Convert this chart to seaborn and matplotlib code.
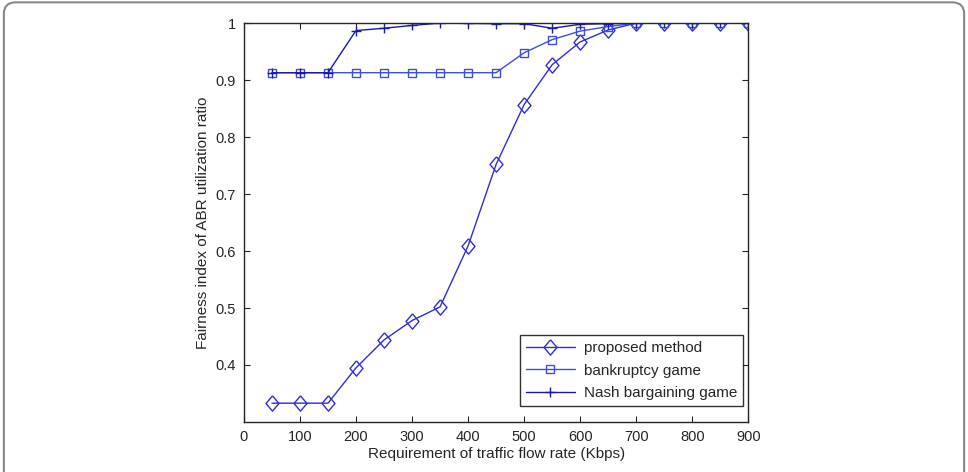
import matplotlib.pyplot as plt
import numpy as np
import pandas as pd
import seaborn as sns
from matplotlib.patches import FancyBboxPatch

rate = [50, 100, 150, 200, 250, 300, 350, 400, 450, 500, 550, 600, 650, 700, 750, 800, 850, 900]
proposed = [0.333, 0.333, 0.333, 0.395, 0.444, 0.478, 0.502, 0.609, 0.752, 0.857, 0.927, 0.967, 0.988,
            1.0, 1.0, 1.0, 1.0, 1.0]
bankruptcy = [0.913, 0.913, 0.913, 0.913, 0.913, 0.913, 0.913, 0.913, 0.913, 0.948, 0.971, 0.986, 0.994,
              1.0, 1.0, 1.0, 1.0, 1.0]
nash = [0.913, 0.913, 0.913, 0.987, 0.991, 0.996, 1.0, 0.9995, 0.999, 0.999, 0.991, 0.998, 0.999,
        1.0, 1.0, 1.0, 1.0, 1.0]

series_names = ['proposed method', 'bankruptcy game', 'Nash bargaining game']
x_ticks = [0, 100, 200, 300, 400, 500, 600, 700, 800, 900]
y_ticks = [0.4, 0.5, 0.6, 0.7, 0.8, 0.9, 1.0]
y_ticklabels = ['0.4', '0.5', '0.6', '0.7', '0.8', '0.9', '1']

df = pd.DataFrame({
    'rate': rate * 3,
    'value': proposed + bankruptcy + nash,
    'method': [series_names[0]] * len(rate) + [series_names[1]] * len(rate) + [series_names[2]] * len(rate),
})

sns.set_style('ticks')
plt.rcParams['font.family'] = ['Liberation Sans', 'DejaVu Sans']
plt.rcParams['xtick.direction'] = 'in'
plt.rcParams['ytick.direction'] = 'in'

fig = plt.figure(figsize=(9.68, 4.72), dpi=100)
ax = fig.add_axes([0.252, 0.106, 0.521, 0.845])

# frame round the whole picture
fig.patches.append(FancyBboxPatch((0.004, -0.05), 0.992, 1.045, boxstyle='round,pad=0,rounding_size=0.012',
                                  transform=fig.transFigure, facecolor='none', edgecolor='#888888',
                                  linewidth=1.5, mutation_aspect=2.05))

# MATLAB style diamond, a bit taller than wide
diamond = [(0, 1), (0.85, 0), (0, -1), (-0.85, 0), (0, 1)]

colors = {'proposed method': '#2e2ed6', 'bankruptcy game': '#3a4ee0', 'Nash bargaining game': '#1a1aa8'}
markers = {'proposed method': diamond, 'bankruptcy game': 's', 'Nash bargaining game': '+'}
sizes = {'proposed method': 11.0, 'bankruptcy game': 5.8, 'Nash bargaining game': 7.5}

for name in series_names:
    sub = df[df['method'] == name]
    sns.lineplot(data=sub, x='rate', y='value', ax=ax, color=colors[name], marker=markers[name],
                 markersize=sizes[name], markerfacecolor='none', markeredgecolor=colors[name],
                 markeredgewidth=1.0, linewidth=1.0, label=name)

ax.set_xlim(0, 900)
ax.set_ylim(0.3, 1.0)
ax.set_xticks(x_ticks)
ax.set_yticks(y_ticks)
ax.set_yticklabels(y_ticklabels)
ax.tick_params(labelsize=10.5, top=True, right=True, length=4, width=0.8, pad=6)
for s in ax.spines.values():
    s.set_visible(True)
    s.set_linewidth(1.0)
ax.set_xlabel('Requirement of traffic flow rate (Kbps)', fontsize=11, labelpad=2)
ax.set_ylabel('Fairness index of ABR utilization ratio', fontsize=11, labelpad=4)

leg = ax.legend(loc='lower right', bbox_to_anchor=(0.990, 0.040), borderaxespad=0, fontsize=11,
                frameon=True, fancybox=False, handlelength=3.2, labelspacing=0.55, borderpad=0.4,
                handletextpad=0.6)
leg.get_frame().set_edgecolor('black')
leg.get_frame().set_linewidth(1.0)

fig.savefig('out.png', dpi=100)
